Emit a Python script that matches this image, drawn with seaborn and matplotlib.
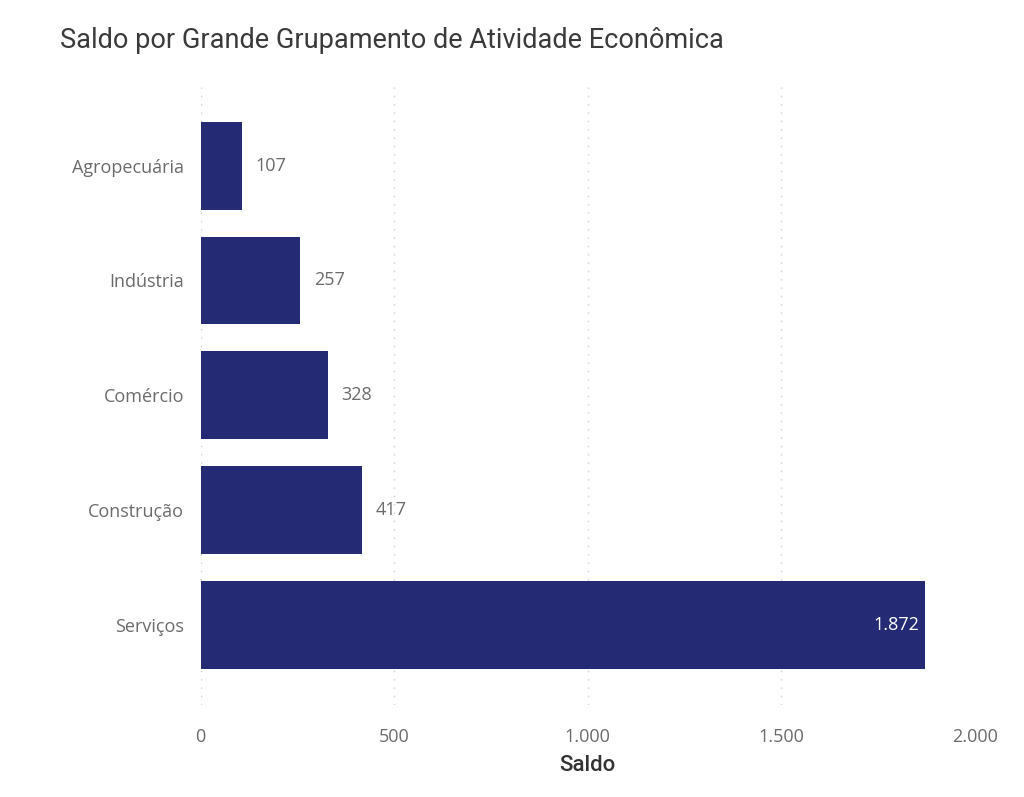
import matplotlib
matplotlib.use("Agg")
import matplotlib.pyplot as plt
import seaborn as sns
import pandas as pd

categorias = ["Agropecuária", "Indústria", "Comércio", "Construção", "Serviços"]
saldo = [107, 257, 328, 417, 1872]
ticks_x = [0, 500, 1000, 1500, 2000]
ticks_x_labels = ["0", "500", "1.000", "1.500", "2.000"]

BAR_COLOR = "#252A74"

sns.set_theme(style="white")
plt.rcParams["font.family"] = ["Open Sans", "DejaVu Sans"]

df = pd.DataFrame({"categoria": categorias, "saldo": saldo})

fig = plt.figure(figsize=(10.24, 7.97), dpi=100)
ax = fig.add_axes([0.196, 0.115, 0.756, 0.778])

sns.barplot(data=df, x="saldo", y="categoria", color=BAR_COLOR,
            saturation=1, width=0.765, orient="h", linewidth=0, ax=ax)

ax.set_xlim(0, 2000)
ax.set_ylim(4.7, -0.7)
ax.set_xticks(ticks_x)
ax.set_xticklabels(ticks_x_labels)
ax.tick_params(axis="y", length=0, labelsize=13, labelcolor="#6b6b6b", pad=12)
ax.tick_params(axis="x", length=0, labelsize=13, labelcolor="#6b6b6b", pad=16)
ax.set_ylabel("")
ax.set_xlabel("Saldo", fontsize=16, color="#333333", labelpad=7,
              family=["Roboto", "DejaVu Sans"], fontweight="medium")

for s in ax.spines.values():
    s.set_visible(False)
ax.grid(axis="x", linestyle=(0, (1, 5)), color="#cfcfcf", linewidth=1)
ax.set_axisbelow(True)

# rótulos de dados
for i, v in enumerate(saldo):
    txt = f"{v:,}".replace(",", ".")
    if v > 1500:
        ax.text(v - 15, i, txt, ha="right", va="center", color="white", fontsize=13)
    else:
        ax.text(v + 35, i, txt, ha="left", va="center", color="#6b6b6b", fontsize=13)

fig.text(60 / 1024, 1 - 40 / 797, "Saldo por Grande Grupamento de Atividade Econômica",
         fontsize=19.5, color="#3a3a3a", ha="left", va="center",
         family=["Roboto", "DejaVu Sans"])

fig.savefig("out.png", dpi=100, facecolor="white")
